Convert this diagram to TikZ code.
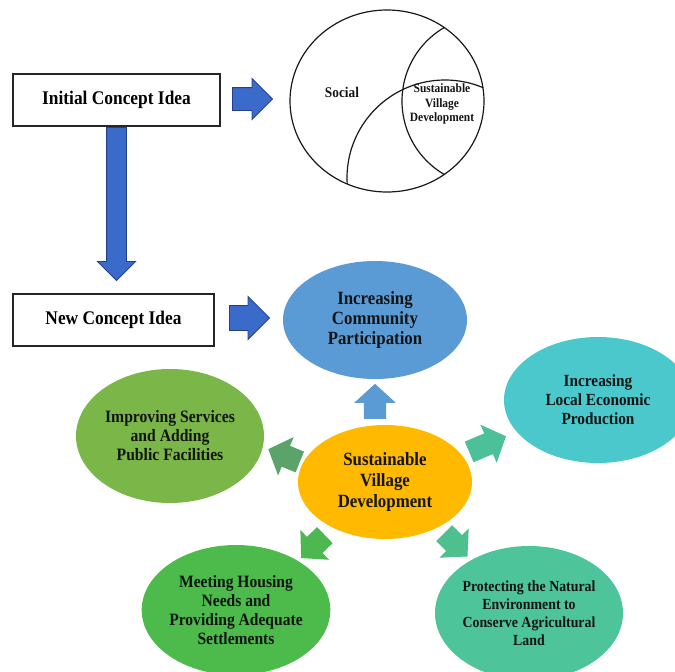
\documentclass[tikz,border=0pt]{standalone}
\usepackage{fontspec}
\setmainfont{Liberation Serif}[FakeStretch=0.9]
\usetikzlibrary{shapes.geometric,shapes.arrows}

\definecolor{arrowblue}{HTML}{3A6BCB}
\definecolor{arrowedge}{HTML}{22408C}
\definecolor{commblue}{HTML}{5B9BD5}
\definecolor{econteal}{HTML}{4BC8CC}
\definecolor{servgreen}{HTML}{7AB648}
\definecolor{coreorange}{HTML}{FFBA00}
\definecolor{housegreen}{HTML}{4CBB4C}
\definecolor{natgreen}{HTML}{4EC49A}
\definecolor{leftgreen}{HTML}{5AA36B}
\definecolor{rightteal}{HTML}{4CC098}
\definecolor{dlgreen}{HTML}{4DB84F}
\definecolor{drgreen}{HTML}{4DC08E}

\begin{document}
\begin{tikzpicture}[x=1pt, y=-1pt,
    conceptbox/.style={draw=black!85, line width=1.2pt, fill=white, inner sep=0pt, minimum height=52pt, font=\bfseries\fontsize{19.3}{22}\selectfont},
    bubble/.style={ellipse, inner sep=0pt, align=center, text=black!92},
    bigarrow/.style={single arrow, anchor=tail, draw=arrowedge, fill=arrowblue, line width=0.9pt, inner xsep=0pt, single arrow head extend=9pt, single arrow tip angle=90},
    smallarrow/.style={single arrow, anchor=tail, inner xsep=0pt, inner ysep=11pt, single arrow head extend=9.5pt, single arrow tip angle=95, minimum height=35pt},
    vennline/.style={line width=1.2pt, draw=black!90}]

  % frame of the page
  \fill[white] (0,0) rectangle (675,672);
  \useasboundingbox (0,0) rectangle (675,672);
  \clip (0,0) rectangle (675,672);

  % first stage
  \node[conceptbox, minimum width=207pt] (initial) at (116.5,100) {Initial Concept Idea};
  \node[bigarrow, inner ysep=11pt, minimum height=40pt] (toVenn) at (232,99) {};
  \node[bigarrow, rotate=-90, inner ysep=9.5pt, minimum height=153pt] (toNew) at (116.5,127) {};

  % venn diagram
  \node[vennline, draw, ellipse, inner sep=0pt, minimum width=194pt, minimum height=182pt] (venn) at (387,101) {};
  \begin{scope}
    \clip (387,101) ellipse [x radius=97pt, y radius=91pt];
    \draw[vennline] (487,101) circle [radius=85pt];
    \draw[vennline] (445,178) circle [radius=98pt];
  \end{scope}
  \node[text=black!92, font=\bfseries\fontsize{14.8}{16}\selectfont] (social) at (342,92) {Social};
  \node[text=black!92, align=center, font=\bfseries\fontsize{12.7}{14.5}\selectfont] (svd) at (442,104) {Sustainable\\Village\\Development};

  % second stage
  \node[conceptbox, minimum width=201pt] (new) at (113.5,320) {New Concept Idea};
  \node[bigarrow, inner ysep=12pt, minimum height=40pt] (toBubble) at (229,318) {};

  % bubbles
  \node[bubble, fill=commblue, minimum width=184pt, minimum height=118pt, font=\bfseries\fontsize{18.7}{20}\selectfont] (community) at (375,320) {Increasing\\Community\\Participation};
  \node[bubble, fill=econteal, minimum width=188pt, minimum height=126pt, font=\bfseries\fontsize{17}{19}\selectfont] (economy) at (598,400) {Increasing\\Local Economic\\Production};
  \node[bubble, fill=servgreen, minimum width=188pt, minimum height=134pt, font=\bfseries\fontsize{17.4}{19}\selectfont] (services) at (170,436) {Improving Services\\and Adding\\Public Facilities};
  \node[bubble, fill=coreorange, minimum width=174pt, minimum height=114pt, font=\bfseries\fontsize{18.7}{21}\selectfont] (core) at (385,482) {Sustainable\\Village\\Development};
  \node[bubble, fill=housegreen, minimum width=184pt, minimum height=130pt, font=\bfseries\fontsize{17.3}{19}\selectfont] (housing) at (236,610) {Meeting Housing\\Needs and\\Providing Adequate\\Settlements};
  \node[bubble, fill=natgreen, minimum width=177pt, minimum height=134pt, font=\bfseries\fontsize{15.4}{18}\selectfont] (nature) at (529,613) {Protecting the Natural\\Environment to\\Conserve Agricultural\\Land};

  % arrows out of the core
  \node[smallarrow, fill=commblue, rotate=90] (toCommunity) at (375,419) {};
  \node[smallarrow, fill=leftgreen, rotate=158, minimum height=34pt] (toServices) at (300,462) {};
  \node[smallarrow, fill=rightteal, rotate=23, minimum height=40pt] (toEconomy) at (469,452) {};
  \node[smallarrow, fill=dlgreen, rotate=-136, minimum height=33pt] (toHousing) at (325,535) {};
  \node[smallarrow, fill=drgreen, rotate=-45, minimum height=33pt] (toNature) at (444,533) {};
\end{tikzpicture}
\end{document}
